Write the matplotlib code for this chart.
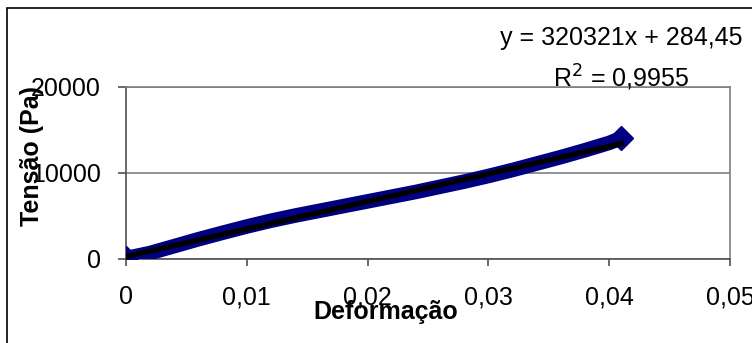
import numpy as np
import matplotlib
matplotlib.use("Agg")
import matplotlib.pyplot as plt
import matplotlib.ticker as ticker
from matplotlib.patches import Rectangle

# Data
deformacao = [0, 0.002, 0.004, 0.006, 0.008, 0.010, 0.012, 0.014, 0.016, 0.018, 0.020,
              0.022, 0.024, 0.026, 0.028, 0.030, 0.032, 0.034, 0.036, 0.038, 0.040, 0.041]
tensao = [100, 700, 1500, 2300, 3050, 3780, 4450, 5050, 5600, 6150, 6700,
          7250, 7800, 8400, 9000, 9650, 10350, 11100, 11850, 12650, 13500, 14050]

# Linear trendline (as shown on chart)
slope = 320321
intercept = 284.45
r2_text = "0,9955"

x_ticks = [0, 0.01, 0.02, 0.03, 0.04, 0.05]
y_ticks = [0, 10000, 20000]


def comma_fmt(v, pos):
    s = "%g" % v
    return s.replace(".", ",")


def main():
    matplotlib.rcParams['font.family'] = ["Liberation Sans", "DejaVu Sans"]

    W, H = 752, 343
    fig = plt.figure(figsize=(W / 100, H / 100), dpi=100)
    ax = fig.add_axes([126 / W, 1 - 259 / H, (730 - 126) / W, (259 - 87) / H])

    # outer chart frame
    fig.patches.append(Rectangle((7 / W, -0.1), 1.2, 1 - 8 / H + 0.1, transform=fig.transFigure,
                                 fill=False, edgecolor="black", linewidth=1.2))

    # series
    ax.plot(deformacao, tensao, color="#000080", linewidth=10.5, marker="D",
            markersize=12, markevery=[0, len(deformacao) - 1], solid_capstyle="butt",
            zorder=3)
    # trendline
    xt = np.array([0, deformacao[-1]])
    ax.plot(xt, slope * xt + intercept, color="black", linewidth=3.8, zorder=4)

    ax.set_xlim(0, 0.05)
    ax.set_ylim(0, 20000)
    ax.set_xticks(x_ticks)
    ax.set_yticks(y_ticks)
    ax.xaxis.set_major_formatter(ticker.FuncFormatter(comma_fmt))
    ax.yaxis.set_major_formatter(ticker.FuncFormatter(comma_fmt))
    ax.tick_params(axis="both", labelsize=18, direction="out", length=6,
                   color="#505050", width=1.2)
    ax.tick_params(axis="x", pad=14, length=5)
    ax.tick_params(axis="y", pad=12)
    ax.yaxis.grid(True, color="#808080", linewidth=1.2)
    ax.set_axisbelow(True)

    for side in ["top", "right"]:
        ax.spines[side].set_color("#808080")
        ax.spines[side].set_linewidth(1.2)
    for side in ["left", "bottom"]:
        ax.spines[side].set_color("#505050")
        ax.spines[side].set_linewidth(1.2)

    # axis titles (placed like the Excel chart)
    fig.text(386 / W, 1 - 312 / H, "Deformação", fontsize=18, fontweight="bold",
             ha="center", va="center")
    fig.text(32 / W, 1 - 156 / H, "Tensão (Pa)", fontsize=18, fontweight="bold",
             ha="center", va="center", rotation=90)

    # trendline equation
    fig.text(621 / W, 1 - 38 / H, "y = %dx + 284,45" % slope, fontsize=18,
             ha="center", va="center")
    fig.text(621 / W, 1 - 78 / H, "R$^2$ = " + r2_text, fontsize=18,
             ha="center", va="center")

    fig.savefig("out.png", dpi=100)


if __name__ == "__main__":
    main()
